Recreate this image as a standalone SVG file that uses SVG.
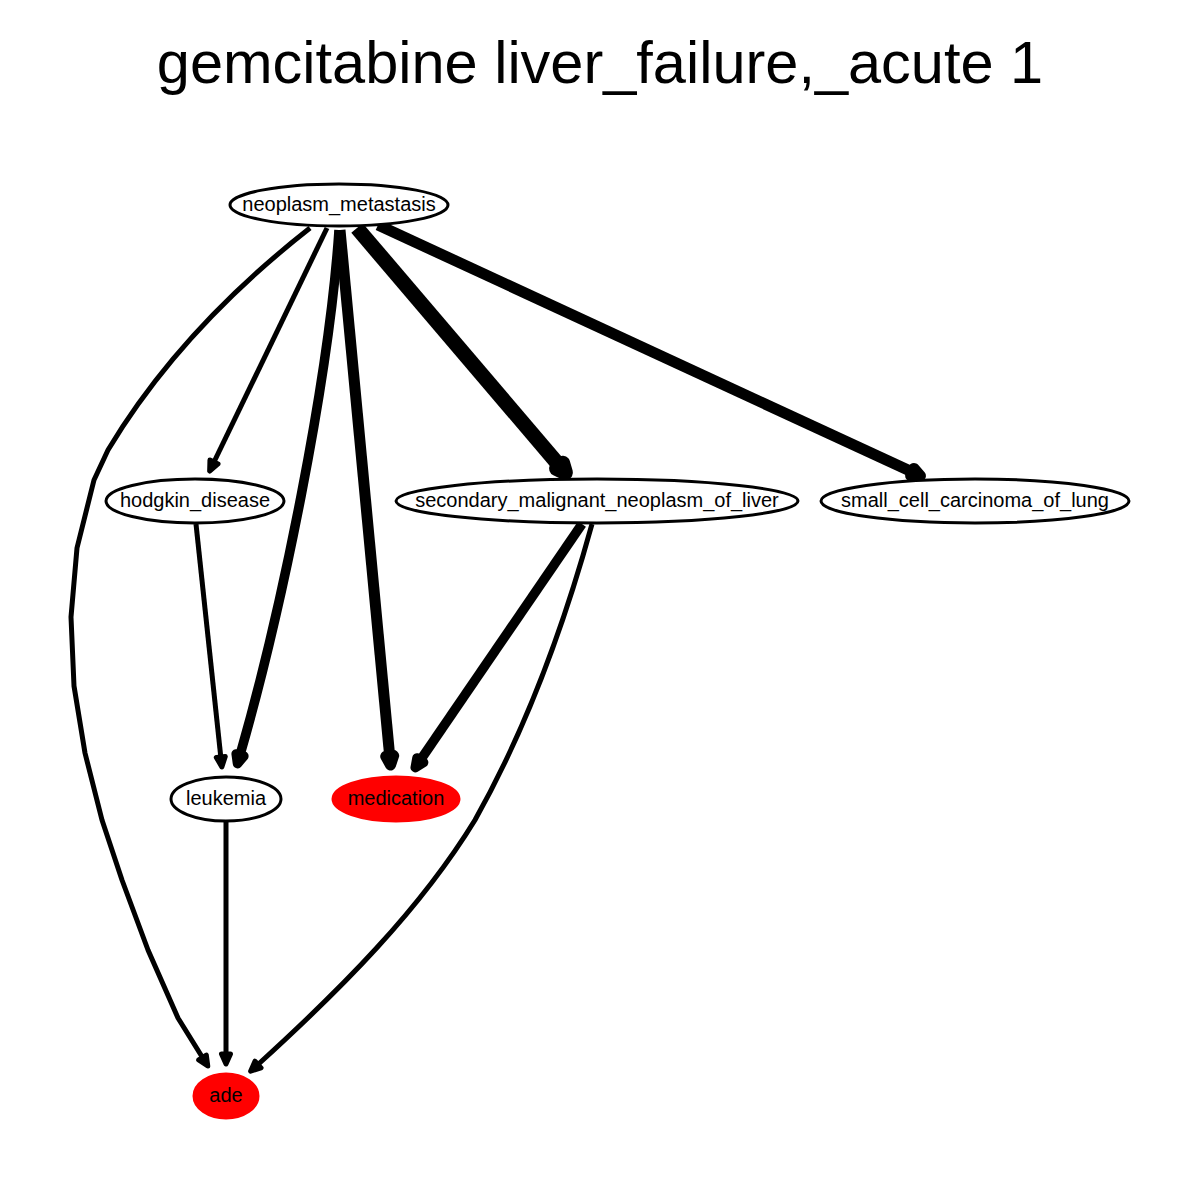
<svg xmlns="http://www.w3.org/2000/svg" width="1200" height="1200" viewBox="0 0 1200 1200">
<style>
.node ellipse{stroke:#000;stroke-width:3}
.node ellipse.w{fill:#fff}
.node ellipse.r{fill:#ff0000;stroke:#ff0000}
.node text{font-family:"Liberation Sans",Arial,sans-serif;font-size:20px;text-anchor:middle;fill:#000}
.e{fill:none;stroke:#000;stroke-linejoin:round}
.title{font-family:"Liberation Sans",Arial,sans-serif;font-size:59.5px;text-anchor:middle;fill:#000}
</style>
<defs>
<marker id="m4" markerUnits="userSpaceOnUse" orient="auto" refX="0" refY="0" markerWidth="40" markerHeight="40" viewBox="-20 -20 40 40" overflow="visible"><path d="M0,-4.5 L10,0 L0,4.5 Z" fill="#000" stroke="#000" stroke-width="5" stroke-linejoin="round"/></marker>
<marker id="m8" markerUnits="userSpaceOnUse" orient="auto" refX="0" refY="0" markerWidth="40" markerHeight="40" viewBox="-20 -20 40 40" overflow="visible"><path d="M0,-4 L9,0 L0,4 Z" fill="#000" stroke="#000" stroke-width="9.5" stroke-linejoin="round"/></marker>
<marker id="m10" markerUnits="userSpaceOnUse" orient="auto" refX="0" refY="0" markerWidth="40" markerHeight="40" viewBox="-20 -20 40 40" overflow="visible"><path d="M0,-4 L9,0 L0,4 Z" fill="#000" stroke="#000" stroke-width="11" stroke-linejoin="round"/></marker>
<marker id="m14" markerUnits="userSpaceOnUse" orient="auto" refX="0" refY="0" markerWidth="40" markerHeight="40" viewBox="-20 -20 40 40" overflow="visible"><path d="M0,-4 L9,0 L0,4 Z" fill="#000" stroke="#000" stroke-width="15" stroke-linejoin="round"/></marker>
</defs>
<rect width="1200" height="1200" fill="#fff"/>
<text class="title" x="600" y="83">gemcitabine liver_failure,_acute 1</text>
<g id="edges">
<path class="e" stroke-width="5" marker-end="url(#m4)" d="M327,228 L214,462"/>
<path class="e" stroke-width="9.5" marker-end="url(#m8)" d="M339,230 C329,380 281.5,611 240,755"/>
<path class="e" stroke-width="11" marker-end="url(#m10)" d="M340,230 L389.7,756"/>
<path class="e" stroke-width="15" marker-end="url(#m14)" d="M357,228 L559.6,465.8"/>
<path class="e" stroke-width="11" marker-end="url(#m10)" d="M378,225 L912.3,472.1"/>
<path class="e" stroke-width="5" marker-end="url(#m4)" d="M310,228 Q180,330 108,450 L94,480 L77,548 L71,617 L74,686 L85,753 L102,820 L122,880 L148,950 L178,1018 L202.5,1057.5"/>
<path class="e" stroke-width="5" marker-end="url(#m4)" d="M196,524 L220.8,757"/>
<path class="e" stroke-width="9.5" marker-end="url(#m8)" d="M582,524 L420.3,760.2"/>
<path class="e" stroke-width="5" marker-end="url(#m4)" d="M592,524 C560,640 520,740 475,820 C420,910 340,990 258,1064.5"/>
<path class="e" stroke-width="5" marker-end="url(#m4)" d="M226,821 L226,1054"/>
</g>
<g id="neoplasm_metastasis" class="node"><ellipse class="w" cx="339" cy="205" rx="109" ry="21"/><text x="339" y="211">neoplasm_metastasis</text></g>
<g id="hodgkin_disease" class="node"><ellipse class="w" cx="195" cy="501" rx="89" ry="22"/><text x="195" y="507">hodgkin_disease</text></g>
<g id="secondary_malignant_neoplasm_of_liver" class="node"><ellipse class="w" cx="597" cy="501" rx="201" ry="22"/><text x="597" y="507">secondary_malignant_neoplasm_of_liver</text></g>
<g id="small_cell_carcinoma_of_lung" class="node"><ellipse class="w" cx="975" cy="501" rx="154" ry="22"/><text x="975" y="507">small_cell_carcinoma_of_lung</text></g>
<g id="leukemia" class="node"><ellipse class="w" cx="226" cy="799" rx="55" ry="22"/><text x="226" y="805">leukemia</text></g>
<g id="medication" class="node"><ellipse class="r" cx="396" cy="799" rx="63" ry="22"/><text x="396" y="805">medication</text></g>
<g id="ade" class="node"><ellipse class="r" cx="226" cy="1096" rx="32" ry="22"/><text x="226" y="1102">ade</text></g>
</svg>
